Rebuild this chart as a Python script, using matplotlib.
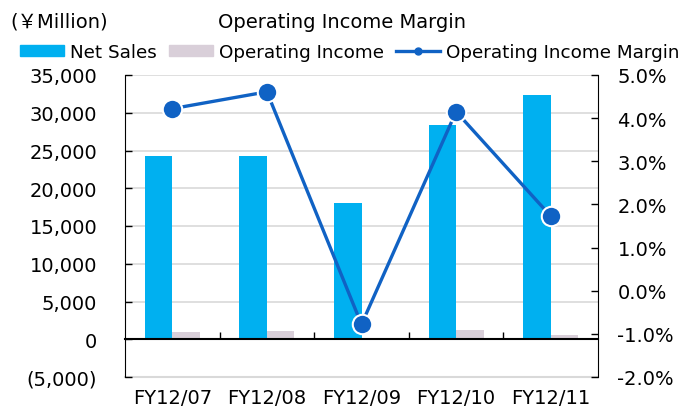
import numpy as np
import matplotlib
matplotlib.use("Agg")
import matplotlib.pyplot as plt
from matplotlib.patches import Patch
from matplotlib.lines import Line2D
from matplotlib.ticker import FuncFormatter

# data
periods = ["FY12/07", "FY12/08", "FY12/09", "FY12/10", "FY12/11"]
net_sales = [24300, 24300, 18100, 28400, 32400]        # ¥ million
op_income = [1020, 1110, -145, 1160, 560]              # ¥ million
op_margin = [4.22, 4.61, -0.78, 4.15, 1.73]            # %

left_ticks = [-5000, 0, 5000, 10000, 15000, 20000, 25000, 30000, 35000]
right_ticks = [-2, -1, 0, 1, 2, 3, 4, 5]

c_sales = "#00B0F0"
c_oi = "#D9CFD9"
c_line = "#1062C4"
c_grid = "#D9D9D9"

plt.rcParams["font.family"] = ["DejaVu Sans", "Noto Sans CJK JP"]
fs = 14

fig = plt.figure(figsize=(6.81, 4.14), dpi=100)
ax = fig.add_axes([125/681, 1 - 378/414, 473/681, 302/414])

x = np.arange(len(periods))
w = 0.29
ax.bar(x - w/2, net_sales, w, color=c_sales, zorder=2)
ax.bar(x + w/2, op_income, w, color=c_oi, zorder=2)

ax.set_xlim(-0.5, len(periods) - 0.5)
ax.set_ylim(left_ticks[0], left_ticks[-1])
ax.set_yticks(left_ticks)

def yen_fmt(v, pos):
    if v < 0:
        return "({:,.0f})".format(-v)
    return "{:,.0f}".format(v)

ax.yaxis.set_major_formatter(FuncFormatter(yen_fmt))
ax.yaxis.grid(True, color=c_grid, linewidth=1.2)
# bottom gridline sits on the edge of the plot area, keep it whole
ax.axhline(left_ticks[0], color=c_grid, linewidth=1.5, clip_on=False, zorder=0.5)
ax.set_axisbelow(True)
ax.tick_params(axis="y", direction="in", length=5, width=1, pad=20, labelsize=fs)

# x axis line sits at zero, ticks between categories
ax.spines["bottom"].set_position(("data", 0))
ax.spines["bottom"].set_linewidth(1.5)
ax.spines["top"].set_visible(False)
ax.spines["right"].set_visible(False)
ax.set_xticks(x[:-1] + 0.5)
ax.set_xticklabels([])
ax.tick_params(axis="x", direction="in", length=5, width=1)

# category labels below the plot area
sec = ax.secondary_xaxis("bottom")
sec.set_xticks(x, periods)
sec.tick_params(length=0, pad=8, labelsize=fs)
sec.spines["bottom"].set_visible(False)

ax2 = ax.twinx()
ax2.plot(x, op_margin, color=c_line, linewidth=2.4, marker="o", markersize=14,
         markerfacecolor=c_line, markeredgecolor="white", markeredgewidth=1.5, zorder=3)
ax2.set_ylim(right_ticks[0], right_ticks[-1])
ax2.set_yticks(right_ticks)
ax2.yaxis.set_major_formatter(FuncFormatter(lambda v, p: "{:.1f}%".format(v)))
ax2.tick_params(axis="y", direction="in", length=5, width=1, pad=14, labelsize=fs)
for s in ["top", "left", "bottom"]:
    ax2.spines[s].set_visible(False)
ax2.spines["right"].set_color("black")

fig.text(10/681, 1 - 22/414, "(\uffe5Million)", fontsize=fs, va="center", ha="left")
fig.text(342/681, 1 - 22/414, "Operating Income Margin", fontsize=fs, va="center", ha="center")

handles = [Patch(color=c_sales), Patch(color=c_oi),
           Line2D([], [], color=c_line, linewidth=2.4, marker="o", markersize=5)]
labels = ["Net Sales", "Operating Income", "Operating Income Margin"]
fig.legend(handles, labels, loc="center left", bbox_to_anchor=(20/681, 1 - 53/414),
           ncol=3, frameon=False, fontsize=13.2, handlelength=2.4, handleheight=0.5,
           handletextpad=0.3, columnspacing=0.7, borderpad=0, borderaxespad=0)

fig.savefig("out.png", dpi=100)
